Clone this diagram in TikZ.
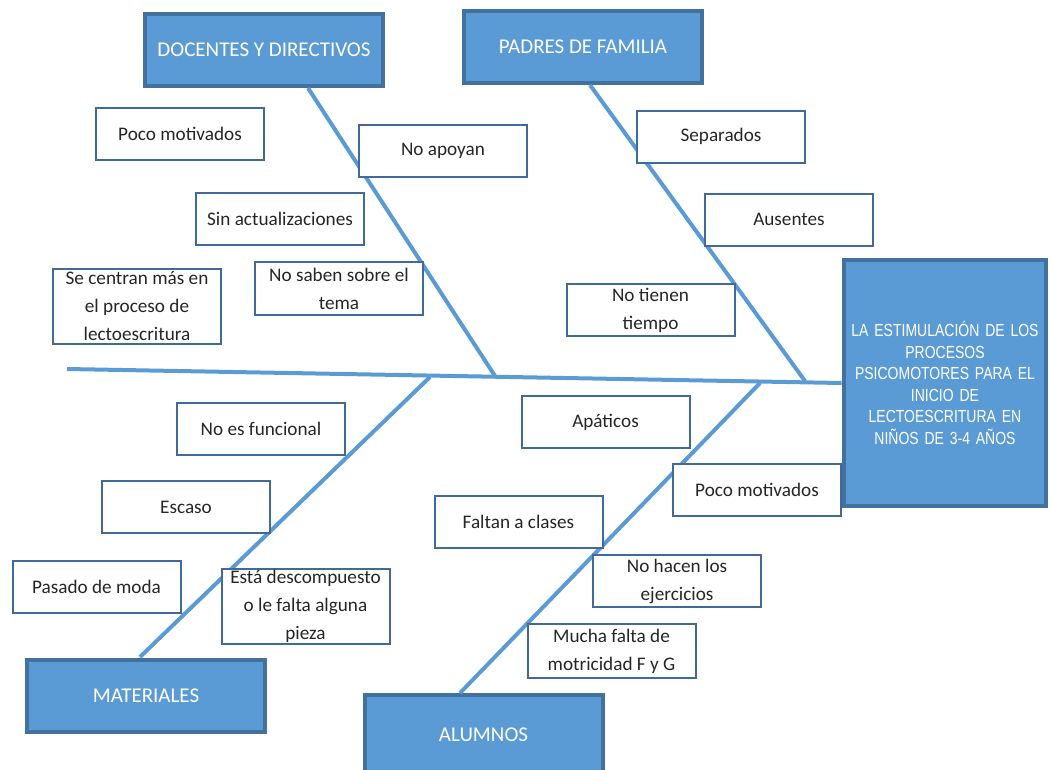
\documentclass[tikz,border=0pt]{standalone}
\usepackage{fontspec}
\setmainfont{Carlito}
\newfontfamily\narrowfont{Liberation Sans}[FakeStretch=0.8]
\usetikzlibrary{positioning}

\definecolor{boneblue}{HTML}{5B9BD5}
\definecolor{edgeblue}{HTML}{41719C}
\definecolor{causeedge}{HTML}{3F6A9A}

\tikzset{
	bone/.style={draw=boneblue, line width=4pt},
	headbox/.style={draw=edgeblue, line width=4pt, fill=boneblue, text=white,
		font=\fontsize{21}{24}\selectfont, minimum width=238pt, minimum height=72pt},
	causebox/.style={draw=causeedge, line width=2pt, fill=white, text=black!85,
		font=\fontsize{19.2}{28}\selectfont, align=center, inner sep=0pt,
		minimum width=168pt, minimum height=52pt},
}

\begin{document}
\begin{tikzpicture}[x=1pt, y=-1pt]
		\useasboundingbox (0,0) rectangle (1050,769);

		% effect and main categories
		\node[headbox, minimum width=202pt, minimum height=246pt, align=center,
			text width=196pt, font=\narrowfont\fontsize{17.5}{21.5}\selectfont] (eff) at (945,383)
			{LA ESTIMULACIÓN DE LOS\\PROCESOS\\PSICOMOTORES PARA EL\\INICIO DE\\LECTOESCRITURA EN\\NIÑOS DE 3-4 AÑOS};
		\node[headbox] (doc) at (264,50) {DOCENTES Y DIRECTIVOS};
		\node[headbox] (pad) at (583,46.5) {PADRES DE FAMILIA};
		\node[headbox] (mat) at (146,696) {MATERIALES};
		\node[headbox, minimum height=80pt] (alu) at (483.5,735) {ALUMNOS};

		% spine and bones
		\coordinate (tail) at (67,369);
		\coordinate (dtop) at (308,88);
		\coordinate (dfoot) at (495,376);
		\coordinate (ptop) at (590,85);
		\coordinate (pfoot) at (805,381);
		\coordinate (mtop) at (140,657);
		\coordinate (mfoot) at (430,377);
		\coordinate (atop) at (460,693);
		\coordinate (afoot) at (760,383);

		\draw[bone] (tail) -- (eff.west);
		\draw[bone] (dtop) -- (dfoot);
		\draw[bone] (ptop) -- (pfoot);
		\draw[bone] (mtop) -- (mfoot);
		\draw[bone] (atop) -- (afoot);

		% docentes y directivos
		\node[causebox] (d1) at (180,133.5) {Poco motivados};
		\node[causebox] (d2) at (443,151) {No apoyan};
		\node[causebox] (d3) at (280,219) {Sin actualizaciones};
		\node[causebox, minimum height=75pt] (d4) at (137,306.5)
			{Se centran más en\\el proceso de\\lectoescritura};
		\node[causebox, minimum height=53pt] (d5) at (339,288.5) {No saben sobre el\\tema};

		% padres de familia
		\node[causebox] (p1) at (721,136.5) {Separados};
		\node[causebox] (p2) at (789,219.5) {Ausentes};
		\node[causebox] (p3) at (650.5,310) {No tienen\\tiempo};

		% materiales
		\node[causebox] (m1) at (261,428.5) {No es funcional};
		\node[causebox] (m2) at (186,507) {Escaso};
		\node[causebox] (m3) at (96.5,586.5) {Pasado de moda};
		\node[causebox, minimum height=75pt] (m4) at (305.5,606.5)
			{Está descompuesto\\o le falta alguna\\pieza};

		% alumnos
		\node[causebox] (a1) at (605.5,422) {Apáticos};
		\node[causebox] (a2) at (757,490) {Poco motivados};
		\node[causebox] (a3) at (518.5,522) {Faltan a clases};
		\node[causebox] (a4) at (677,581) {No hacen los\\ejercicios};
		\node[causebox, minimum height=54pt] (a5) at (611.5,651) {Mucha falta de\\motricidad F y G};
	\end{tikzpicture}
\end{document}
